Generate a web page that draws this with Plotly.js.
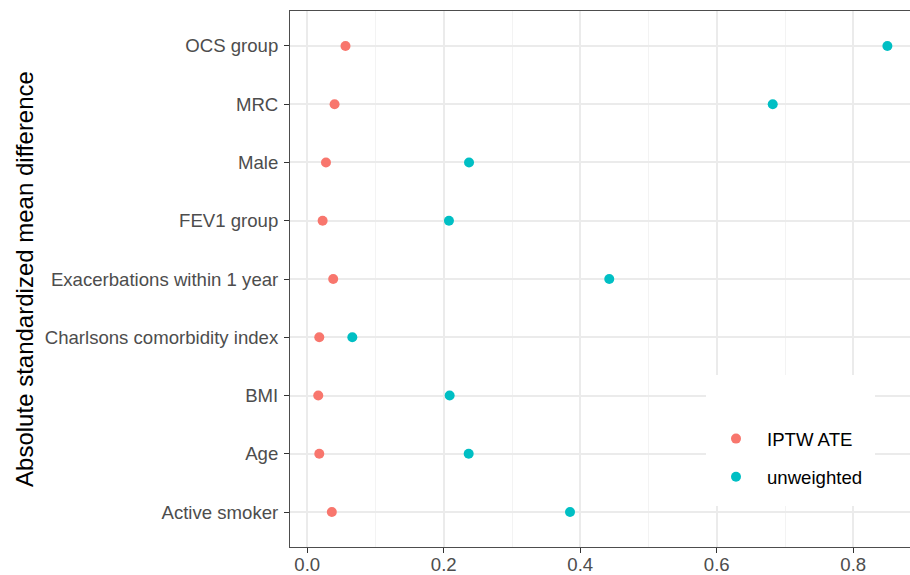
<!DOCTYPE html>
<html>
<head>
<meta charset="utf-8">
<script src="https://cdn.plot.ly/plotly-3.0.1.min.js"></script>
<style>
html,body{margin:0;padding:0;overflow:hidden;background:#fff;}
#chart{width:917px;height:575px;}
</style>
</head>
<body>
<div id="chart"></div>
<script>
var covariates = ["Active smoker","Age","BMI","Charlsons comorbidity index","Exacerbations within 1 year","FEV1 group","Male","MRC","OCS group"];
var iptwATE    = [0.036, 0.0176, 0.0161, 0.0176, 0.038, 0.0225, 0.0274, 0.040, 0.056];
var unweighted = [0.385, 0.2365, 0.2086, 0.066, 0.4425, 0.2076, 0.237, 0.682, 0.850];
var xTicks = [0, 0.2, 0.4, 0.6, 0.8];
var xTickLabels = ["0.0","0.2","0.4","0.6","0.8"];

var FONT = "Liberation Sans, Arial, sans-serif";
var TICKSIZE = 18.6;

var traces = [
  {type:"scatter", mode:"markers", name:"IPTW ATE", legendgroup:"a",
   x: iptwATE, y: covariates, marker:{color:"#F8766D", size:10}, cliponaxis:false},
  {type:"scatter", mode:"markers", name:"unweighted", legendgroup:"b",
   x: unweighted, y: covariates, marker:{color:"#00BFC4", size:10}, cliponaxis:false}
];

var layout = {
  width: 917, height: 575,
  margin: {l:290, r:0, t:11, b:28},
  paper_bgcolor:"#ffffff", plot_bgcolor:"#ffffff",
  font:{family:FONT, size:TICKSIZE, color:"#4D4D4D"},
  showlegend:true,
  legend:{
    x:(705-290)/627, y:(547-420)/536, xanchor:"left", yanchor:"top",
    bgcolor:"rgba(0,0,0,0)", borderwidth:0,
    font:{family:FONT, size:TICKSIZE, color:"#000000"},
    tracegroupgap:11, itemwidth:52
  },
  shapes:[
    {type:"rect", xref:"paper", yref:"paper",
     x0:(706-290)/627, x1:(875-290)/627, y0:(547-506)/536, y1:(547-375)/536,
     fillcolor:"#ffffff", line:{width:0}, layer:"above"}
  ],
  xaxis:{
    range:[-0.0253, -0.0253 + 627/682.5],
    tickvals:xTicks, ticktext:xTickLabels,
    ticks:"outside", ticklen:5, tickwidth:1, tickcolor:"#333333",
    ticklabelstandoff:-4,
    showgrid:true, gridcolor:"#EBEBEB", gridwidth:2,
    minor:{dtick:0.1, tick0:0, showgrid:true, gridcolor:"#F3F3F3", gridwidth:1, ticks:""},
    zeroline:false, showline:true, mirror:true, linecolor:"#4D4D4D", linewidth:1,
    tickfont:{family:FONT, size:TICKSIZE, color:"#4D4D4D"}
  },
  yaxis:{
    type:"category", categoryorder:"array", categoryarray:covariates,
    range:[-0.6, 8.6],
    ticks:"outside", ticklen:5, tickwidth:1, tickcolor:"#333333",
    ticklabelstandoff:2,
    showgrid:true, gridcolor:"#EBEBEB", gridwidth:2,
    zeroline:false, showline:true, mirror:true, linecolor:"#4D4D4D", linewidth:1,
    tickfont:{family:FONT, size:TICKSIZE, color:"#4D4D4D"},
    title:{text:"Absolute standardized mean difference", font:{family:FONT, size:24, color:"#000000"}, standoff:4}
  }
};

Plotly.newPlot("chart", traces, layout, {displayModeBar:false, staticPlot:true});
</script>
</body>
</html>
